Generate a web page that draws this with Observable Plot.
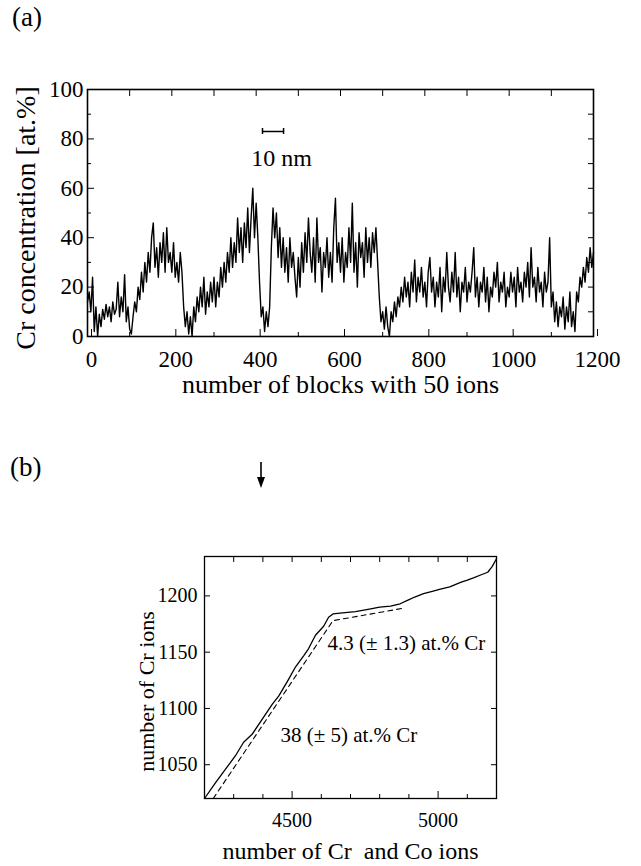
<!DOCTYPE html>
<html><head><meta charset="utf-8">
<script src="https://cdn.jsdelivr.net/npm/d3@7"></script>
<script src="https://cdn.jsdelivr.net/npm/@observablehq/plot@0.6"></script>
<style>
body{margin:0;background:#fff;}
#wrap{position:relative;width:641px;height:866px;font-family:"Liberation Serif","Times New Roman","DejaVu Serif",serif;color:#000;overflow:hidden;}
#wrap svg text{font-family:"Liberation Serif","Times New Roman","DejaVu Serif",serif !important;font-variant:normal !important;}
.abs{position:absolute;line-height:1;}
</style></head><body><div id="wrap">
<div class="abs" style="left:12px;top:4px;font-size:27px;">(a)</div>
<div class="abs" style="left:10px;top:454px;font-size:27px;">(b)</div>
<svg class="abs" style="left:254px;top:462px" width="14" height="28"><line x1="7" y1="0" x2="7" y2="20" stroke="black" stroke-width="1.6"/><polygon points="3,15 11,15 7,26" fill="black"/></svg>
<div id="pa" class="abs" style="left:0;top:60px"></div>
<div id="pb" class="abs" style="left:0;top:530px"></div>
</div>
<script>
// ---------- Panel (a) data: Cr concentration (at.%) read every 4 blocks of 50 ions ----------
const blockStep = 4;
const crConcentration = [
  14,18,10,24,2,12,0,9,4,11,7,13,8,12,6,14,9,11,22,8,16,10,25,6,12,
  3,1,8,14,10,20,15,26,18,30,22,34,26,40,46,28,36,24,38,30,42,26,44,30,34,
  26,38,24,30,22,34,26,12,4,10,1,8,0,12,6,16,10,20,12,24,9,18,12,22,14,
  24,12,22,16,28,20,30,22,34,26,40,28,38,30,48,34,44,30,46,36,52,34,48,60,40,
  54,40,22,8,12,2,10,4,12,36,52,40,50,32,44,28,40,26,36,22,40,28,34,24,16,
  32,20,38,26,42,30,48,34,26,40,22,48,30,36,18,34,28,40,24,34,22,44,56,30,38,
  26,40,22,34,28,44,30,54,26,38,20,42,32,38,24,44,30,40,28,42,34,44,30,16,6,
  10,3,12,4,0,10,6,14,8,16,12,20,14,24,16,22,12,26,18,31,14,24,18,28,16,
  22,12,26,32,18,24,12,22,16,28,10,24,18,34,20,14,26,18,34,16,24,10,22,18,28,
  14,22,18,26,36,16,24,12,22,18,28,14,24,10,20,16,26,20,30,14,22,18,26,12,20,
  16,26,18,24,12,28,18,22,14,26,20,30,16,36,20,24,14,28,18,22,12,26,18,22,40,
  12,18,6,14,4,12,8,16,3,12,6,18,4,10,2,18,14,24,20,28,22,32,26,36,28,
  34
];
const xMajorTicksA = [0,200,400,600,800,1000,1200];
const xMinorTicksA = [100,300,500,700,900,1100];
const yMajorTicksA = [0,20,40,60,80,100];
const yMinorTicksA = [10,30,50,70,90];
const scaleBar = {from: 415, to: 465, level: 83, label: "10 nm", labelX: 460, labelY: 72};

// ---------- Panel (b) data ----------
const solidIonsTotal = [4200,4238,4272,4306,4334,4363,4399,4433,4454,4484,4512,4540,4556,4580,4608,4625,4640,4673,4717,4760,4800,4837,4870,4895,4920,4950,4980,5008,5040,5077,5100,5121,5150,5170,5185,5200];
const solidIonsCr    = [1020,1034,1046,1058,1070,1077,1091,1104,1111,1124,1137,1147,1153,1165,1173,1181,1184,1185,1186,1188,1190,1191,1193,1196,1199,1202,1204,1206,1208,1212,1214,1216,1219,1221,1226,1233];
const fitIonsTotal = [4230,4640,4880];
const fitIonsCr    = [1020,1178,1189];
const xMajorTicksB = [4500,5000];
const xMinorTicksB = [4300,4400,4600,4700,4800,4900,5100];
const yMajorTicksB = [1050,1100,1150,1200];
const annotationsB = [
  {x: 4621, y: 1158, text: "4.3 (± 1.3) at.% Cr"},
  {x: 4460, y: 1076, text: "38 (± 5) at.% Cr"}
];

const serif = "'Liberation Serif','Times New Roman','DejaVu Serif',serif";
const blank = () => "";

const dataA = crConcentration.map((v, i) => ({block: i * blockStep, cr: v}));

const plotA = Plot.plot({
  width: 641, height: 340,
  marginLeft: 87, marginRight: 48, marginTop: 29, marginBottom: 64,
  style: {fontFamily: serif, fontSize: "23px", color: "black", background: "transparent"},
  x: {domain: [0, 1200]},
  y: {domain: [0, 100]},
  marks: [
    Plot.axisX(xMajorTicksA, {anchor: "bottom", tickSize: -7, tickPadding: 21, tickFormat: "d", label: null, fontSize: 23, dx: 4}),
    Plot.axisX(xMinorTicksA, {anchor: "bottom", tickSize: -4, tickFormat: blank, label: null}),
    Plot.axisX(xMajorTicksA.concat(xMinorTicksA), {anchor: "top", tickSize: -6, tickFormat: blank, label: null}),
    Plot.axisY(yMajorTicksA, {anchor: "left", tickSize: -7, tickPadding: 11, tickFormat: "d", label: null, fontSize: 23}),
    Plot.axisY(yMinorTicksA, {anchor: "left", tickSize: -4, tickFormat: blank, label: null}),
    Plot.axisY(yMajorTicksA.concat(yMinorTicksA), {anchor: "right", tickSize: -6, tickFormat: blank, label: null}),
    Plot.line(dataA, {x: "block", y: "cr", stroke: "black", strokeWidth: 1.4}),
    Plot.ruleY([scaleBar.level], {x1: scaleBar.from, x2: scaleBar.to, stroke: "black", strokeWidth: 1.5}),
    Plot.ruleX([scaleBar.from, scaleBar.to], {y1: scaleBar.level - 1.2, y2: scaleBar.level + 1.2, stroke: "black", strokeWidth: 1.5}),
    Plot.text([scaleBar.label], {x: scaleBar.labelX, y: scaleBar.labelY, text: d => d, fontSize: 24, fill: "black"}),
    Plot.text(["number of blocks with 50 ions"], {text: d => d, frameAnchor: "bottom", lineAnchor: "middle", textAnchor: "middle", dy: 48, fontSize: 26, fill: "black"}),
    Plot.text(["Cr concentration [at.%]"], {text: d => d, frameAnchor: "left", lineAnchor: "middle", textAnchor: "middle", rotate: -90, dx: -61, dy: 5, fontSize: 28, fill: "black"}),
    Plot.frame({stroke: "black", strokeWidth: 1.6})
  ]
});
document.getElementById("pa").appendChild(plotA);

const solidB = solidIonsTotal.map((x, i) => ({x, y: solidIonsCr[i]}));
const fitB = fitIonsTotal.map((x, i) => ({x, y: fitIonsCr[i]}));

const plotB = Plot.plot({
  width: 641, height: 336,
  marginLeft: 204, marginRight: 145, marginTop: 26, marginBottom: 68,
  style: {fontFamily: serif, fontSize: "20px", color: "black", background: "transparent"},
  x: {domain: [4200, 5200]},
  y: {domain: [1020, 1235]},
  marks: [
    Plot.axisX(xMajorTicksB, {anchor: "bottom", tickSize: -7, tickPadding: 21, tickFormat: "d", label: null, fontSize: 20}),
    Plot.axisX(xMinorTicksB, {anchor: "bottom", tickSize: -4, tickFormat: blank, label: null}),
    Plot.axisX(xMajorTicksB.concat(xMinorTicksB), {anchor: "top", tickSize: -5, tickFormat: blank, label: null}),
    Plot.axisY(yMajorTicksB, {anchor: "left", tickSize: -6, tickPadding: 13, tickFormat: "d", label: null, fontSize: 20}),
    Plot.axisY(yMajorTicksB, {anchor: "right", tickSize: -6, tickFormat: blank, label: null}),
    Plot.line(solidB, {x: "x", y: "y", stroke: "black", strokeWidth: 1.3}),
    Plot.line(fitB, {x: "x", y: "y", stroke: "black", strokeWidth: 1.1, strokeDasharray: "5,4"}),
    Plot.text(annotationsB, {x: "x", y: "y", text: "text", textAnchor: "start", fontSize: 21, fill: "black"}),
    Plot.text(["number of Cr  and Co ions"], {text: d => d, frameAnchor: "bottom", lineAnchor: "middle", textAnchor: "middle", dy: 53, fontSize: 24, fill: "black"}),
    Plot.text(["number of Cr ions"], {text: d => d, frameAnchor: "left", lineAnchor: "middle", textAnchor: "middle", rotate: -90, dx: -58, dy: 14, fontSize: 22, fill: "black"}),
    Plot.frame({stroke: "black", strokeWidth: 1.3})
  ]
});
document.getElementById("pb").appendChild(plotB);
</script>
</body></html>
